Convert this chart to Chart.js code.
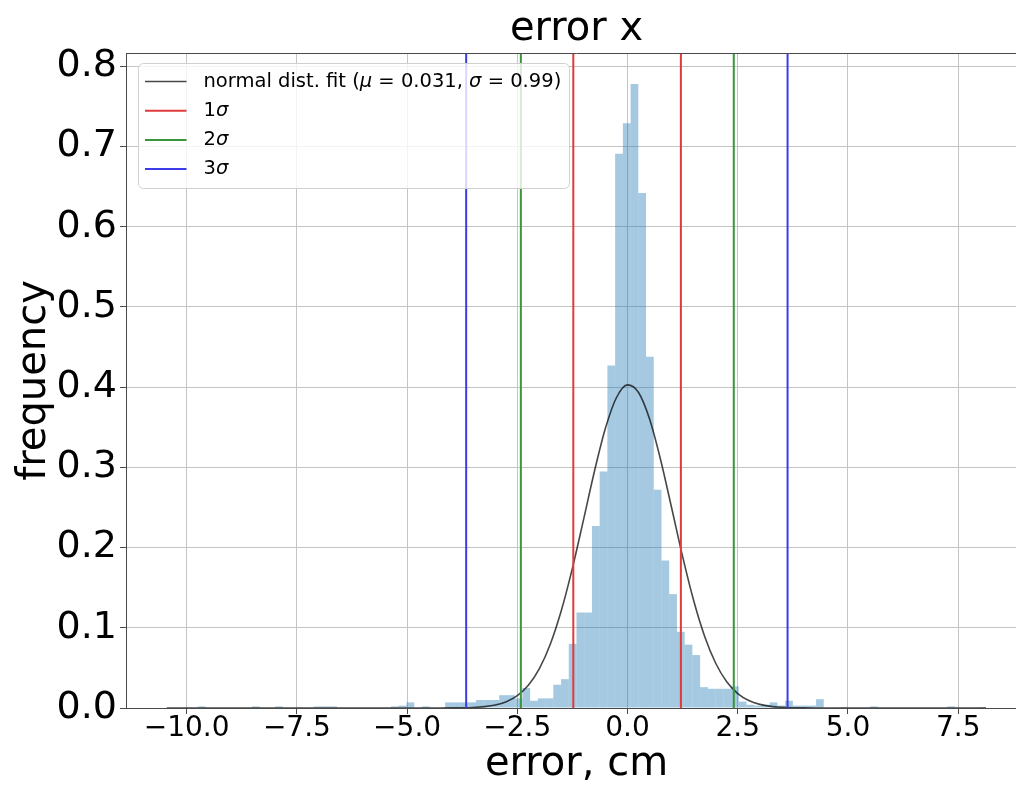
<!DOCTYPE html>
<html>
<head>
<meta charset="utf-8">
<script src="https://cdn.jsdelivr.net/npm/chart.js@4.4.0/dist/chart.umd.min.js"></script>
<style>
  html, body { margin: 0; padding: 0; background: #fff; overflow: hidden; }
  canvas { display: block; }
</style>
</head>
<body>
<canvas id="errx" width="1027" height="785"></canvas>
<script>
// histogram bins (left edge of the first bin, bin width) and normalised heights
const binStart = -10.447
const binWidth = 0.17527
const binFreq = [
  0, 0, 0, 0, 0.002, 0, 0, 0, 0, 0,
  0, 0.002, 0, 0, 0.002, 0, 0, 0, 0, 0.002,
  0.002, 0.002, 0, 0, 0, 0, 0, 0, 0, 0.002,
  0.003, 0.007, 0, 0.002, 0, 0, 0.007, 0.007, 0.007, 0.007,
  0.010, 0.010, 0.010, 0.016, 0.016, 0.012, 0.025, 0.009, 0.012, 0.012,
  0.029, 0.036, 0.080, 0.119, 0.119, 0.227, 0.295, 0.427, 0.691, 0.729,
  0.778, 0.642, 0.438, 0.272, 0.184, 0.142, 0.095, 0.079, 0.066, 0.026,
  0.024, 0.024, 0.024, 0.027, 0.008, 0.004, 0.003, 0.004, 0.007, 0.003,
  0.009, 0.003, 0.003, 0.003, 0.011, 0, 0, 0.001, 0, 0,
  0, 0.002, 0, 0, 0, 0, 0, 0, 0, 0,
  0, 0.002, 0, 0, 0, 0.001
]

// normal fit curve
const fitX = [-10.45, -4.75, -4.5, -4.25, -4.0, -3.75, -3.5, -3.25, -3.0, -2.75, -2.5, -2.25, -2.0, -1.75, -1.5, -1.25,
  -1.0, -0.75, -0.5, -0.25, 0, 0.25, 0.5, 0.75, 1.0, 1.25, 1.5, 1.75, 2.0, 2.25, 2.5, 2.75, 3.0,
  3.25, 3.5, 3.75, 4.0, 4.25, 4.5, 4.75, 8.13]
const fitY = [0, 0, 0, 0, 0.0001, 0.0003, 0.0007, 0.0017, 0.0037, 0.0078, 0.0154, 0.0283, 0.0491, 0.0799, 0.1218, 0.1744,
  0.2343, 0.2952, 0.349, 0.3871, 0.4028, 0.3933, 0.3602, 0.3095, 0.2496, 0.1888, 0.134, 0.0892, 0.0558, 0.0327, 0.018, 0.0093, 0.0045,
  0.002, 0.0009, 0.0003, 0.0001, 0, 0, 0, 0]

const sigma1 = [-1.23, 1.21]
const sigma2 = [-2.42, 2.41]
const sigma3 = [-3.66, 3.63]

const xTicks = [-10, -7.5, -5, -2.5, 0, 2.5, 5, 7.5]
const yTicks = [0, 0.1, 0.2, 0.3, 0.4, 0.5, 0.6, 0.7, 0.8]
const xMin = -11.376, xMax = 9.061
const yMax = 0.8166

const axisColor = '#4a4a4a'
const gridColor = '#c4c4c4'
const colRed = '#e03b3b'
const colGreen = '#3a963a'
const colBlue = '#3b3be8'
const colFit = 'rgba(0,0,0,0.72)'

Chart.defaults.font.family = 'DejaVu Sans'
Chart.defaults.color = '#000'

function vlines(xs, color, order) {
    return xs.map(x => ({
        type: 'line',
        data: [{x: x, y: 0}, {x: x, y: yMax}],
        borderColor: color,
        borderWidth: 2,
        pointRadius: 0,
        order: order,
    }))
}

const minus = v => v.toFixed(1).replace('-', '\u2212')

const legendRows = [
    {color: colFit, width: 1.5, parts: [['normal dist. fit (', false], ['\u03bc', true], [' = 0.031, ', false], ['\u03c3', true], [' = 0.99)', false]]},
    {color: colRed, width: 2, parts: [['1', false], ['\u03c3', true]]},
    {color: colGreen, width: 2, parts: [['2', false], ['\u03c3', true]]},
    {color: colBlue, width: 2, parts: [['3', false], ['\u03c3', true]]},
]

const framePlugin = {
    id: 'frame',
    afterDraw(chart) {
        const {ctx, chartArea: a} = chart
        ctx.save()
        // title, centred over the axes rather than the canvas
        ctx.fillStyle = '#000'
        ctx.font = '40px "DejaVu Sans"'
        ctx.textAlign = 'center'
        ctx.textBaseline = 'middle'
        ctx.fillText('error x', (a.left + a.right) / 2, 30)

        // top spine
        ctx.strokeStyle = axisColor
        ctx.lineWidth = 1
        ctx.beginPath()
        ctx.moveTo(a.left, a.top + 0.5)
        ctx.lineTo(a.right, a.top + 0.5)
        ctx.stroke()

        // legend box
        const bx = a.left + 12.5, by = a.top + 10.5, bw = 431, bh = 125
        ctx.beginPath()
        ctx.roundRect(bx, by, bw, bh, 5)
        ctx.fillStyle = 'rgba(255,255,255,0.8)'
        ctx.fill()
        ctx.strokeStyle = '#d0d0d0'
        ctx.lineWidth = 1
        ctx.stroke()

        legendRows.forEach((row, i) => {
            const y = by + 18 + i * 29.2
            ctx.strokeStyle = row.color
            ctx.lineWidth = row.width
            ctx.beginPath()
            ctx.moveTo(bx + 6.5, y)
            ctx.lineTo(bx + 48, y)
            ctx.stroke()
            let x = bx + 65
            ctx.fillStyle = '#000'
            ctx.textBaseline = 'middle'
            ctx.textAlign = 'left'
            row.parts.forEach(([t, it]) => {
                ctx.font = (it ? 'italic ' : '') + '19.5px "DejaVu Sans"'
                ctx.fillText(t, x, y)
                x += ctx.measureText(t).width
            })
        })
        ctx.restore()
    }
}

const histData = binFreq.map((h, i) => ({x: binStart + (i + 0.5) * binWidth, y: h}))
const fitData = fitX.map((x, i) => ({x: x, y: fitY[i]}))

new Chart(document.getElementById('errx'), {
    type: 'bar',
    data: {
        datasets: [
            {
                type: 'line',
                data: fitData,
                borderColor: colFit,
                borderWidth: 1.6,
                pointRadius: 0,
                cubicInterpolationMode: 'monotone',
                order: 4,
            },
            ...vlines(sigma1, colRed, 3),
            ...vlines(sigma2, colGreen, 2),
            ...vlines(sigma3, colBlue, 1),
            {
                type: 'bar',
                data: histData,
                backgroundColor: 'rgba(31,119,180,0.4)',
                borderWidth: 0,
                barPercentage: 1,
                categoryPercentage: 1,
                inflateAmount: 0,
                grouped: false,
                order: 10,
            },
        ]
    },
    options: {
        responsive: false,
        animation: false,
        devicePixelRatio: 1,
        layout: {padding: {top: 53, right: 0, bottom: 0, left: 0}},
        plugins: {
            legend: {display: false},
            tooltip: {enabled: false},
            title: {display: false},
        },
        scales: {
            x: {
                type: 'linear',
                min: xMin,
                max: xMax,
                offset: false,
                afterBuildTicks: s => { s.ticks = xTicks.map(v => ({value: v})) },
                afterFit: s => { s.height = 77 },
                grid: {color: gridColor, lineWidth: 1, offset: false, tickColor: axisColor, tickLength: 6, drawTicks: true},
                border: {color: axisColor, width: 1},
                ticks: {
                    font: {size: 28, lineHeight: 1.0},
                    padding: 1,
                    maxRotation: 0,
                    autoSkip: false,
                    callback: v => minus(v),
                },
                title: {
                    display: true,
                    text: 'error, cm',
                    font: {size: 40, lineHeight: 1.0},
                    padding: {top: 0, bottom: 0},
                },
            },
            y: {
                min: 0,
                max: yMax,
                afterBuildTicks: s => { s.ticks = yTicks.map(v => ({value: v})) },
                afterFit: s => { s.width = 126 },
                grid: {color: gridColor, lineWidth: 1, tickColor: axisColor, tickLength: 6, drawTicks: true},
                border: {color: axisColor, width: 1},
                ticks: {
                    font: {size: 38, lineHeight: 1.0},
                    padding: 3,
                    autoSkip: false,
                    callback: v => v.toFixed(1),
                },
                title: {
                    display: true,
                    text: 'frequency',
                    font: {size: 40, lineHeight: 1.0},
                    padding: {top: 15, bottom: 0},
                },
            },
        },
    },
    plugins: [framePlugin],
})
</script>
</body>
</html>
